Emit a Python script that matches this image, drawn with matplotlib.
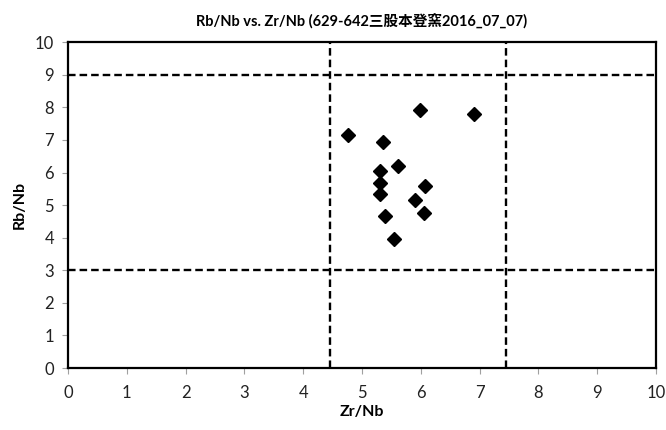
import matplotlib
matplotlib.use("Agg")
import matplotlib.pyplot as plt

# Zr/Nb (x) and Rb/Nb (y)
zr_nb = [5.99, 6.91, 4.76, 5.36, 5.61, 5.31, 5.31, 6.08, 5.30, 5.90, 6.05, 5.40, 5.54]
rb_nb = [7.93, 7.78, 7.16, 6.95, 6.20, 6.05, 5.67, 5.60, 5.34, 5.16, 4.77, 4.67, 3.95]

# dashed reference bounds
x_bounds = [4.45, 7.45]
y_bounds = [3, 9]

ticks = list(range(0, 11))

plt.rcParams['font.family'] = ['Lato', 'Noto Sans CJK TC', 'DejaVu Sans']

fig = plt.figure(figsize=(6.66, 4.30), dpi=100)
ax = fig.add_axes([0.102, 0.144, 0.883, 0.758])

for xb in x_bounds:
    ax.axvline(xb, color='black', linestyle=(0, (3.2, 1.7)), linewidth=1.7, zorder=2)
for yb in y_bounds:
    ax.axhline(yb, color='black', linestyle=(0, (3.2, 1.7)), linewidth=1.7, zorder=2)

ax.plot(zr_nb, rb_nb, linestyle='none', marker='D', markersize=7.5,
        color='black', zorder=3)

ax.set_xlim(0, 10)
ax.set_ylim(0, 10)
ax.set_xticks(ticks)
ax.set_yticks(ticks)
ax.tick_params(axis='both', direction='out', length=4, width=0.8,
               color='#a0a0a0', labelsize=12, labelcolor='#222222', pad=6)
ax.tick_params(axis='x', pad=8)
for sp in ax.spines.values():
    sp.set_linewidth(1.6)
    sp.set_color('black')

ax.set_xlabel('Zr/Nb', fontsize=11.5, fontweight='bold', labelpad=3)
ax.set_ylabel('Rb/Nb', fontsize=11.5, fontweight='bold', labelpad=6)
ax.set_title('Rb/Nb vs. Zr/Nb (629-642三股本登窯2016_07_07)', fontsize=10.5,
             fontweight='bold', pad=12)

fig.savefig('out.png', dpi=100)
